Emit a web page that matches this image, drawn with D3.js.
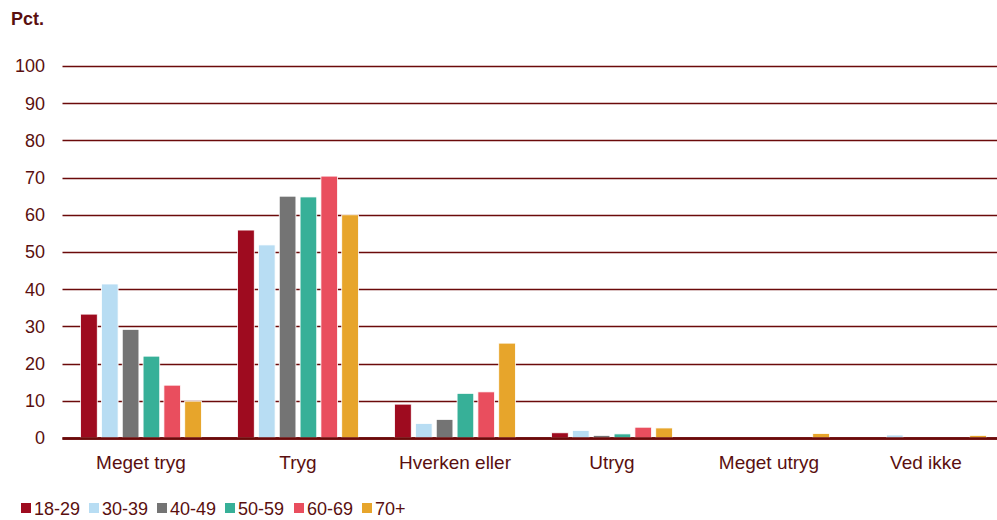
<!DOCTYPE html>
<html>
<head>
<meta charset="utf-8">
<script src="https://cdn.jsdelivr.net/npm/d3@7"></script>
<style>
  body { margin: 0; background: #fff; }
  svg text { font-family: "Liberation Sans", Arial, sans-serif; fill: #5a0f0f; }
</style>
</head>
<body>
<div id="chart"></div>
<script>
// categories and series
var categories = ["Meget tryg", "Tryg", "Hverken eller", "Utryg", "Meget utryg", "Ved ikke"];
var groups = ["18-29", "30-39", "40-49", "50-59", "60-69", "70+"];
var v18_29 = [33.3, 55.9, 9.1, 1.4, 0, 0];
var v30_39 = [41.4, 51.9, 3.9, 2.0, 0, 0.8];
var v40_49 = [29.2, 65.0, 5.0, 0.7, 0, 0];
var v50_59 = [22.0, 64.8, 12.0, 1.1, 0, 0];
var v60_69 = [14.2, 70.4, 12.4, 2.9, 0, 0];
var v70 = [9.9, 60.0, 25.5, 2.7, 1.2, 0.7];
var yTicks = [0, 10, 20, 30, 40, 50, 60, 70, 80, 90, 100];

var series = [v18_29, v30_39, v40_49, v50_59, v60_69, v70];
var colors = ["#9e0b1f", "#b8ddf3", "#747474", "#37b098", "#e94e5e", "#e7a52b"];

var width = 997, height = 520;
var margin = {top: 66, left: 62.5, bottom: 82};
var plotRight = 62.5 + 6 * 157;

var svg = d3.select("#chart")
  .append("svg")
    .attr("width", width)
    .attr("height", height);

var x = d3.scaleBand()
  .domain(categories)
  .range([margin.left, plotRight])
  .paddingInner(0)
  .paddingOuter(0);

var x1 = d3.scaleBand()
  .domain(groups)
  .range([0, x.bandwidth()])
  .paddingInner(0.2)
  .paddingOuter(0.87);

var y = d3.scaleLinear()
  .domain([0, 100])
  .range([438, 66]);

// gridlines
svg.append("g")
  .selectAll("line")
  .data(yTicks)
  .enter()
  .append("line")
    .attr("x1", margin.left)
    .attr("x2", width)
    .attr("y1", function(d) { return Math.round(y(d)) + 0.5; })
    .attr("y2", function(d) { return Math.round(y(d)) + 0.5; })
    .attr("stroke", "#6b0a0a")
    .attr("stroke-width", function(d) { return d === 0 ? 2.5 : 1.6; });

// y tick labels
svg.append("g")
  .selectAll("text")
  .data(yTicks)
  .enter()
  .append("text")
    .attr("x", 45)
    .attr("y", function(d) { return y(d); })
    .attr("dy", "0.35em")
    .attr("text-anchor", "end")
    .style("font-size", "18px")
    .text(function(d) { return d; });

svg.append("text")
  .attr("x", 11)
  .attr("y", 25)
  .style("font-size", "18px")
  .style("font-weight", "bold")
  .text("Pct.");

// bars
var cat = svg.append("g")
  .selectAll("g")
  .data(categories)
  .enter()
  .append("g")
    .attr("transform", function(d) { return "translate(" + x(d) + ",0)"; });

cat.selectAll("rect")
  .data(function(d, ci) {
    return groups.map(function(g, si) { return {g: g, v: series[si][ci], c: colors[si]}; });
  })
  .enter()
  .append("rect")
    .filter(function(d) { return d.v > 0; })
    .attr("x", function(d) { return x1(d.g); })
    .attr("width", x1.bandwidth())
    .attr("y", function(d) { return y(d.v); })
    .attr("height", function(d) { return y(0) - y(d.v); })
    .attr("fill", function(d) { return d.c; })
    .attr("stroke", "#fff")
    .attr("stroke-width", 0.8);

// redraw axis line over bars
svg.append("line")
  .attr("x1", margin.left)
  .attr("x2", width)
  .attr("y1", 438.5)
  .attr("y2", 438.5)
  .attr("stroke", "#6b0a0a")
  .attr("stroke-width", 2.5);

// category labels
svg.append("g")
  .selectAll("text")
  .data(categories)
  .enter()
  .append("text")
    .attr("x", function(d) { return x(d) + x.bandwidth() / 2; })
    .attr("y", 469)
    .attr("text-anchor", "middle")
    .style("font-size", "19px")
    .text(function(d) { return d; });

// legend
var legendX = [21, 89, 157, 225, 294, 362];
var leg = svg.append("g")
  .selectAll("g")
  .data(groups)
  .enter()
  .append("g")
    .attr("transform", function(d, i) { return "translate(" + legendX[i] + ",503)"; });

leg.append("rect")
  .attr("width", 10)
  .attr("height", 10)
  .attr("fill", function(d, i) { return colors[i]; });

leg.append("text")
  .attr("x", 13)
  .attr("y", 11.5)
  .style("font-size", "18px")
  .text(function(d) { return d; });
</script>
</body>
</html>
